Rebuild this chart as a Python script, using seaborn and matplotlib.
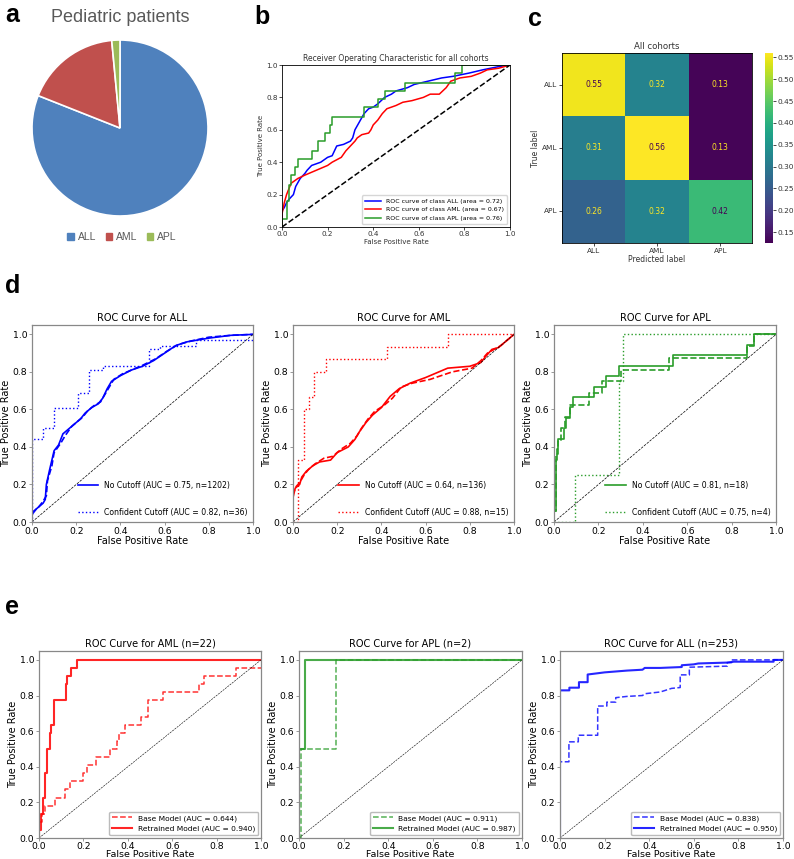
import matplotlib
matplotlib.use('Agg')
import matplotlib.pyplot as plt
from matplotlib.lines import Line2D
from matplotlib.patches import Patch
import seaborn as sns
import numpy as np

W, H = 794, 859

# ---- panel a : pie ----
pie_labels = ['ALL', 'AML', 'APL']
pie_values = [81.0, 17.5, 1.5]
pie_colors = ['#4F81BD', '#C0504D', '#9BBB59']

# ---- panel b : ROC all cohorts ----
b_all_fpr = [0, 0, 0.01, 0.02, 0.03, 0.05, 0.06, 0.08, 0.1, 0.11, 0.13, 0.15, 0.17, 0.2, 0.22, 0.23, 0.24,
             0.27, 0.3, 0.31, 0.32, 0.34, 0.36, 0.38, 0.4, 0.42, 0.45, 0.48, 0.5, 0.55, 0.58, 0.64, 0.7,
             0.75, 0.82, 0.88, 0.95, 1.0]
b_all_tpr = [0, 0.1, 0.12, 0.15, 0.17, 0.2, 0.25, 0.3, 0.33, 0.35, 0.38, 0.39, 0.4, 0.43, 0.44, 0.47, 0.5,
             0.51, 0.53, 0.55, 0.6, 0.65, 0.7, 0.73, 0.74, 0.76, 0.8, 0.82, 0.84, 0.86, 0.88, 0.9, 0.92,
             0.93, 0.95, 0.97, 0.99, 1.0]
b_aml_fpr = [0, 0, 0.01, 0.02, 0.04, 0.07, 0.1, 0.15, 0.2, 0.22, 0.26, 0.28, 0.3, 0.32, 0.33, 0.35, 0.38,
             0.39, 0.4, 0.42, 0.44, 0.46, 0.5, 0.53, 0.57, 0.62, 0.65, 0.69, 0.72, 0.74, 0.78, 0.83, 0.87,
             0.9, 0.95, 1.0]
b_aml_tpr = [0, 0.08, 0.15, 0.2, 0.27, 0.3, 0.32, 0.35, 0.38, 0.4, 0.43, 0.47, 0.5, 0.53, 0.55, 0.57, 0.58,
             0.6, 0.63, 0.66, 0.7, 0.73, 0.75, 0.77, 0.78, 0.8, 0.82, 0.82, 0.86, 0.9, 0.92, 0.93, 0.95,
             0.97, 0.98, 1.0]
b_apl_fpr = [0, 0, 0.02, 0.02, 0.03, 0.03, 0.04, 0.04, 0.055, 0.055, 0.07, 0.07, 0.13, 0.13, 0.16, 0.16,
             0.19, 0.19, 0.21, 0.21, 0.22, 0.22, 0.36, 0.36, 0.42, 0.42, 0.45, 0.45, 0.54, 0.54, 0.76,
             0.76, 0.79, 0.79, 1.0]
b_apl_tpr = [0, 0.05, 0.05, 0.16, 0.16, 0.26, 0.26, 0.32, 0.32, 0.37, 0.37, 0.42, 0.42, 0.47, 0.47, 0.53,
             0.53, 0.58, 0.58, 0.63, 0.63, 0.68, 0.68, 0.74, 0.74, 0.79, 0.79, 0.84, 0.84, 0.89, 0.89,
             0.95, 0.95, 1.0, 1.0]
b_labels = ['ROC curve of class ALL (area = 0.72)',
            'ROC curve of class AML (area = 0.67)',
            'ROC curve of class APL (area = 0.76)']

# ---- panel c : confusion matrix ----
cm_labels = ['ALL', 'AML', 'APL']
cm_values = np.array([[0.55, 0.32, 0.13],
                      [0.31, 0.56, 0.13],
                      [0.26, 0.32, 0.42]])

# ---- panel d : cutoff comparison ----
d_titles = ['ROC Curve for ALL', 'ROC Curve for AML', 'ROC Curve for APL']
d_colors = ['blue', 'red', '#2a9d2a']
d_no_labels = ['No Cutoff (AUC = 0.75, n=1202)', 'No Cutoff (AUC = 0.64, n=136)', 'No Cutoff (AUC = 0.81, n=18)']
d_conf_labels = ['Confident Cutoff (AUC = 0.82, n=36)', 'Confident Cutoff (AUC = 0.88, n=15)',
                 'Confident Cutoff (AUC = 0.75, n=4)']

d_all_no_fpr = [0, 0, 0.02, 0.05, 0.06, 0.065, 0.08, 0.1, 0.12, 0.14, 0.17, 0.2, 0.22, 0.24, 0.27, 0.3, 0.32,
                0.34, 0.36, 0.4, 0.45, 0.5, 0.55, 0.6, 0.65, 0.7, 0.8, 0.9, 1.0]
d_all_no_tpr = [0, 0.04, 0.07, 0.1, 0.12, 0.2, 0.28, 0.38, 0.41, 0.47, 0.5, 0.53, 0.55, 0.58, 0.61, 0.63, 0.66,
                0.71, 0.75, 0.78, 0.81, 0.83, 0.86, 0.9, 0.94, 0.96, 0.98, 0.995, 1.0]
d_all_mid_fpr = [0, 0, 0.03, 0.05, 0.065, 0.07, 0.09, 0.1, 0.13, 0.15, 0.18, 0.21, 0.23, 0.25, 0.28, 0.31, 0.33,
                 0.35, 0.37, 0.41, 0.46, 0.5, 0.56, 0.61, 0.66, 0.72, 0.8, 0.9, 1.0]
d_all_mid_tpr = [0, 0.05, 0.08, 0.11, 0.14, 0.22, 0.3, 0.37, 0.42, 0.46, 0.51, 0.54, 0.56, 0.59, 0.62, 0.64, 0.68,
                 0.72, 0.76, 0.79, 0.815, 0.835, 0.87, 0.91, 0.945, 0.965, 0.985, 0.995, 1.0]
d_all_conf_fpr = [0, 0, 0.05, 0.05, 0.1, 0.1, 0.21, 0.21, 0.26, 0.26, 0.32, 0.32, 0.53, 0.53, 0.58, 0.58,
                  0.74, 0.74, 1.0]
d_all_conf_tpr = [0, 0.44, 0.44, 0.5, 0.5, 0.61, 0.61, 0.69, 0.69, 0.81, 0.81, 0.83, 0.83, 0.92, 0.92, 0.94,
                  0.94, 0.97, 0.97]

d_aml_no_fpr = [0, 0, 0.01, 0.03, 0.04, 0.06, 0.09, 0.12, 0.17, 0.2, 0.25, 0.28, 0.3, 0.33, 0.36, 0.4, 0.44,
                0.48, 0.53, 0.6, 0.7, 0.8, 0.85, 0.87, 0.9, 0.93, 0.96, 1.0]
d_aml_no_tpr = [0, 0.13, 0.18, 0.2, 0.24, 0.27, 0.3, 0.32, 0.33, 0.37, 0.4, 0.44, 0.48, 0.53, 0.57, 0.61, 0.67,
                0.71, 0.74, 0.77, 0.82, 0.83, 0.85, 0.88, 0.92, 0.93, 0.96, 1.0]
d_aml_mid_fpr = [0, 0, 0.015, 0.03, 0.05, 0.07, 0.1, 0.14, 0.18, 0.22, 0.26, 0.29, 0.31, 0.34, 0.37, 0.41,
                 0.45, 0.49, 0.54, 0.62, 0.72, 0.81, 0.85, 0.88, 0.91, 0.94, 0.97, 1.0]
d_aml_mid_tpr = [0, 0.15, 0.19, 0.21, 0.25, 0.28, 0.31, 0.34, 0.35, 0.39, 0.42, 0.46, 0.5, 0.55, 0.59, 0.62,
                 0.66, 0.72, 0.74, 0.76, 0.8, 0.82, 0.86, 0.9, 0.92, 0.94, 0.97, 1.0]
d_aml_conf_fpr = [0, 0.023, 0.023, 0.048, 0.048, 0.071, 0.071, 0.095, 0.095, 0.148, 0.148, 0.425, 0.425,
                  0.7, 0.7, 1.0]
d_aml_conf_tpr = [0, 0, 0.33, 0.33, 0.6, 0.6, 0.667, 0.667, 0.8, 0.8, 0.867, 0.867, 0.933, 0.933, 1.0, 1.0]

d_apl_no_fpr = [0, 0, 0.01, 0.01, 0.015, 0.015, 0.02, 0.02, 0.045, 0.045, 0.055, 0.055, 0.07, 0.07, 0.087,
                0.087, 0.18, 0.18, 0.236, 0.236, 0.294, 0.294, 0.537, 0.537, 0.869, 0.869, 0.9, 0.9, 1.0]
d_apl_no_tpr = [0, 0.056, 0.056, 0.333, 0.333, 0.389, 0.389, 0.444, 0.444, 0.5, 0.5, 0.556, 0.556, 0.611,
                0.611, 0.667, 0.667, 0.722, 0.722, 0.778, 0.778, 0.833, 0.833, 0.889, 0.889, 0.944, 0.944,
                1.0, 1.0]
d_apl_mid_fpr = [0, 0, 0.01, 0.01, 0.02, 0.02, 0.03, 0.03, 0.05, 0.05, 0.07, 0.07, 0.158, 0.158, 0.217,
                 0.217, 0.304, 0.304, 0.52, 0.52, 0.87, 0.87, 0.9, 0.9, 1.0]
d_apl_mid_tpr = [0, 0.06, 0.06, 0.36, 0.36, 0.43, 0.43, 0.5, 0.5, 0.56, 0.56, 0.625, 0.625, 0.69, 0.69, 0.75,
                 0.75, 0.81, 0.81, 0.875, 0.875, 0.94, 0.94, 1.0, 1.0]
d_apl_conf_fpr = [0, 0.096, 0.096, 0.294, 0.294, 0.31, 0.31, 1.0]
d_apl_conf_tpr = [0, 0, 0.25, 0.25, 0.75, 0.75, 1.0, 1.0]

# ---- panel e : base vs retrained ----
e_titles = ['ROC Curve for AML (n=22)', 'ROC Curve for APL (n=2)', 'ROC Curve for ALL (n=253)']
e_colors = ['red', '#2a9d2a', 'blue']
e_base_labels = ['Base Model (AUC = 0.644)', 'Base Model (AUC = 0.911)', 'Base Model (AUC = 0.838)']
e_re_labels = ['Retrained Model (AUC = 0.940)', 'Retrained Model (AUC = 0.987)', 'Retrained Model (AUC = 0.950)']

e_aml_base_fpr = [0, 0, 0.015, 0.015, 0.026, 0.026, 0.071, 0.071, 0.116, 0.116, 0.139, 0.139, 0.196, 0.196,
                  0.214, 0.214, 0.259, 0.259, 0.319, 0.319, 0.352, 0.352, 0.361, 0.361, 0.387, 0.387,
                  0.458, 0.458, 0.492, 0.492, 0.56, 0.56, 0.721, 0.721, 0.745, 0.745, 0.888, 0.888, 1.0]
e_aml_base_tpr = [0, 0.091, 0.091, 0.136, 0.136, 0.182, 0.182, 0.227, 0.227, 0.273, 0.273, 0.318, 0.318,
                  0.364, 0.364, 0.409, 0.409, 0.455, 0.455, 0.5, 0.5, 0.545, 0.545, 0.591, 0.591, 0.636,
                  0.636, 0.682, 0.682, 0.773, 0.773, 0.818, 0.818, 0.864, 0.864, 0.909, 0.909, 0.955, 0.955]
e_aml_re_fpr = [0, 0, 0.01, 0.01, 0.02, 0.02, 0.025, 0.025, 0.038, 0.038, 0.048, 0.048, 0.056, 0.056, 0.066,
                0.066, 0.12, 0.12, 0.128, 0.128, 0.143, 0.143, 0.172, 0.172, 1.0]
e_aml_re_tpr = [0, 0.045, 0.045, 0.136, 0.136, 0.227, 0.227, 0.364, 0.364, 0.5, 0.5, 0.591, 0.591, 0.636,
                0.636, 0.773, 0.773, 0.864, 0.864, 0.909, 0.909, 0.955, 0.955, 1.0, 1.0]

e_apl_base_fpr = [0, 0.008, 0.008, 0.168, 0.168, 1.0]
e_apl_base_tpr = [0, 0, 0.5, 0.5, 1.0, 1.0]
e_apl_re_fpr = [0, 0, 0.028, 0.028, 1.0]
e_apl_re_tpr = [0, 0.5, 0.5, 1.0, 1.0]

e_all_base_fpr = [0, 0, 0.04, 0.04, 0.082, 0.082, 0.169, 0.169, 0.21, 0.21, 0.25, 0.25, 0.3, 0.37, 0.38, 0.45,
                  0.5, 0.539, 0.539, 0.58, 0.58, 0.75, 0.75, 0.77, 0.77, 1.0]
e_all_base_tpr = [0, 0.428, 0.428, 0.54, 0.54, 0.577, 0.577, 0.741, 0.741, 0.763, 0.763, 0.788, 0.795, 0.8,
                  0.81, 0.82, 0.84, 0.845, 0.916, 0.916, 0.959, 0.965, 0.985, 0.985, 1.0, 1.0]
e_all_re_fpr = [0, 0, 0.042, 0.042, 0.085, 0.085, 0.124, 0.124, 0.169, 0.2, 0.25, 0.3, 0.37, 0.38, 0.45, 0.546,
                0.546, 0.6, 0.62, 0.75, 0.78, 0.958, 0.958, 1.0]
e_all_re_tpr = [0, 0.829, 0.829, 0.844, 0.844, 0.875, 0.875, 0.918, 0.925, 0.93, 0.935, 0.94, 0.945, 0.955,
                0.955, 0.96, 0.97, 0.975, 0.98, 0.985, 0.99, 0.99, 1.0, 1.0]


def px_box(x0, y0, x1, y1):
    return [x0 / W, 1 - y1 / H, (x1 - x0) / W, (y1 - y0) / H]


def roc_line(ax, fpr, tpr, color, ls='-', lw=1.2, alpha=1.0):
    sns.lineplot(x=fpr, y=tpr, ax=ax, color=color, linestyle=ls, linewidth=lw, alpha=alpha,
                 sort=False, estimator=None)
    return ax.get_lines()[-1]


def style_roc(ax, title, fs, gray='#888888'):
    ax.set_xlim(0, 1)
    ax.set_ylim(0, 1.05)
    ax.set_xticks([0, 0.2, 0.4, 0.6, 0.8, 1.0])
    ax.set_yticks([0, 0.2, 0.4, 0.6, 0.8, 1.0])
    ax.set_title(title, fontsize=fs, pad=3)
    ax.set_xlabel('False Positive Rate', fontsize=fs, labelpad=0)
    ax.set_ylabel('True Positive Rate', fontsize=fs, labelpad=1)
    ax.tick_params(labelsize=fs - 0.3, length=2.5, width=0.6, color=gray, pad=1)
    for sp in ax.spines.values():
        sp.set_color(gray)
        sp.set_linewidth(0.9)


fig = plt.figure(figsize=(W / 100, H / 100), dpi=100)

# panel letters
for letter, x, y in [('a', 5, 22), ('b', 254, 24), ('c', 528, 26), ('d', 5, 293), ('e', 5, 614)]:
    fig.text(x / W, 1 - y / H, letter, fontsize=18, fontweight='bold', family='Liberation Sans',
             va='baseline', ha='left')

# ---- a ----
axa = fig.add_axes(px_box(32, 40, 208, 216))
axa.pie(pie_values, colors=pie_colors, startangle=90, counterclock=False,
        wedgeprops=dict(edgecolor='white', linewidth=1.2))
axa.set_xlim(-1, 1)
axa.set_ylim(-1, 1)
fig.text(120 / W, 1 - 18 / H, 'Pediatric patients', ha='center', va='center', fontsize=13,
         color='#595959', family='Liberation Sans')
fig.legend(handles=[Patch(color=c, label=l) for c, l in zip(pie_colors, pie_labels)],
           loc='center', bbox_to_anchor=(122 / W, 1 - 237 / H), ncol=3, frameon=False,
           handlelength=0.6, handleheight=0.6, columnspacing=0.9, handletextpad=0.4,
           labelcolor='#595959', prop={'family': 'Liberation Sans', 'size': 7.5})

# ---- b ----
axb = fig.add_axes(px_box(282, 65, 510, 227))
roc_line(axb, b_all_fpr, b_all_tpr, 'blue', lw=1.1)
roc_line(axb, b_aml_fpr, b_aml_tpr, 'red', lw=1.1)
roc_line(axb, b_apl_fpr, b_apl_tpr, '#2a9d2a', lw=1.1)
axb.plot([0, 1], [0, 1], 'k--', lw=1.1)
axb.set_xlim(0, 1)
axb.set_ylim(0, 1.0)
axb.set_title('Receiver Operating Characteristic for all cohorts', fontsize=5.5, pad=3, color='#333333')
axb.set_xlabel('False Positive Rate', fontsize=5, labelpad=1.5, color='#333333')
axb.set_ylabel('True Positive Rate', fontsize=5, labelpad=1.5, color='#333333')
axb.tick_params(labelsize=5.2, length=2, width=0.5, pad=1, labelcolor='#333333')
for sp in axb.spines.values():
    sp.set_linewidth(0.6)
axb.legend(axb.get_lines()[:3], b_labels, loc='lower right', fontsize=4.5, handlelength=2.5,
           borderpad=0.5, labelspacing=0.5)

# ---- c ----
axc = fig.add_axes(px_box(562, 53, 752, 243))
caxc = fig.add_axes(px_box(765, 53, 773, 243))
sns.heatmap(cm_values, ax=axc, cbar_ax=caxc, cmap='viridis', vmin=0.125, vmax=0.56, annot=True, fmt='.2f',
            annot_kws={'fontsize': 5.5}, xticklabels=cm_labels, yticklabels=cm_labels)
thresh = (cm_values.max() + cm_values.min()) / 2
vir = plt.get_cmap('viridis')
for txt, val in zip(axc.texts, cm_values.flatten()):
    txt.set_color(vir(0.0) if val > thresh else vir(1.0))
axc.set_title('All cohorts', fontsize=6.2, pad=3, color='#333333')
axc.set_xlabel('Predicted label', fontsize=5.5, labelpad=1, color='#333333')
axc.set_ylabel('True label', fontsize=5.5, labelpad=1, color='#333333')
axc.tick_params(labelsize=5.3, length=2, width=0.5, pad=1.5, labelcolor='#333333')
axc.set_yticklabels(cm_labels, rotation=0)
for sp in axc.spines.values():
    sp.set_visible(True)
    sp.set_linewidth(0.6)
caxc.set_yticks([0.15, 0.20, 0.25, 0.30, 0.35, 0.40, 0.45, 0.50, 0.55])
caxc.tick_params(labelsize=5.3, length=2, width=0.5, pad=1, labelcolor='#333333')
caxc.yaxis.set_major_formatter(matplotlib.ticker.FormatStrFormatter('%.2f'))

# ---- d ----
d_boxes = [(32, 325, 253, 522), (293, 325, 514, 522), (554, 325, 776, 522)]
d_data = [(d_all_no_fpr, d_all_no_tpr, d_all_mid_fpr, d_all_mid_tpr, d_all_conf_fpr, d_all_conf_tpr),
          (d_aml_no_fpr, d_aml_no_tpr, d_aml_mid_fpr, d_aml_mid_tpr, d_aml_conf_fpr, d_aml_conf_tpr),
          (d_apl_no_fpr, d_apl_no_tpr, d_apl_mid_fpr, d_apl_mid_tpr, d_apl_conf_fpr, d_apl_conf_tpr)]
for i in range(3):
    ax = fig.add_axes(px_box(*d_boxes[i]))
    nf, nt, mf, mt, cf, ct = d_data[i]
    c = d_colors[i]
    h1 = roc_line(ax, nf, nt, c, '-', 1.2)
    roc_line(ax, mf, mt, c, '--', 1.2)
    h3 = roc_line(ax, cf, ct, c, ':', 1.0)
    ax.plot([0, 1], [0, 1], 'k--', lw=0.5)
    style_roc(ax, d_titles[i], 7)
    blank = Line2D([], [], color='none')
    ax.legend([h1, blank, h3], [d_no_labels[i], ' ', d_conf_labels[i]], loc='lower right', fontsize=5.6,
              frameon=False, labelspacing=0.55, borderaxespad=0.3, handlelength=2.6)

# ---- e ----
e_boxes = [(39, 651, 261, 838), (299, 651, 522, 838), (560, 651, 783, 838)]
e_data = [(e_aml_base_fpr, e_aml_base_tpr, e_aml_re_fpr, e_aml_re_tpr),
          (e_apl_base_fpr, e_apl_base_tpr, e_apl_re_fpr, e_apl_re_tpr),
          (e_all_base_fpr, e_all_base_tpr, e_all_re_fpr, e_all_re_tpr)]
for i in range(3):
    ax = fig.add_axes(px_box(*e_boxes[i]))
    bf, bt, rf, rt = e_data[i]
    c = e_colors[i]
    h1 = roc_line(ax, bf, bt, c, '--', 1.1, alpha=0.8)
    h2 = roc_line(ax, rf, rt, c, '-', 1.5, alpha=0.85)
    ax.plot([0, 1], [0, 1], 'k--', lw=0.4)
    style_roc(ax, e_titles[i], 7)
    ax.xaxis.label.set_fontsize(6.8)
    ax.tick_params(axis='x', pad=0.5)
    ax.xaxis.labelpad = -1
    ax.legend([h1, h2], [e_base_labels[i], e_re_labels[i]], loc='lower right', fontsize=5.4,
              edgecolor='#aaaaaa', fancybox=True, borderaxespad=0.4, handlelength=2.6)

fig.savefig('out.png', dpi=100)
